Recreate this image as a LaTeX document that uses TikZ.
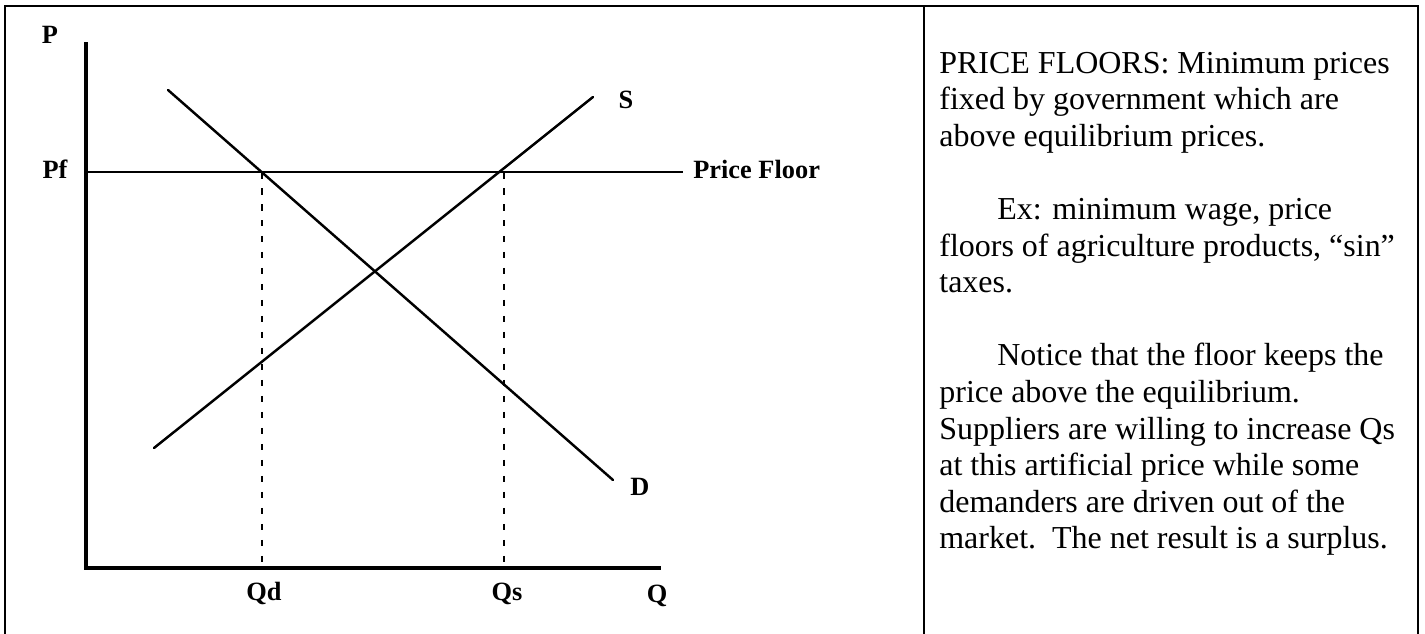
\documentclass[tikz,border=0pt]{standalone}
\usepackage{fontspec}
\setmainfont{Liberation Serif}
\begin{document}
\begin{tikzpicture}[x=0.02cm, y=-0.02cm,
	lbl/.style={font=\fontsize{15}{17}\selectfont\bfseries, inner sep=0pt, anchor=base},
	note/.style={font=\fontsize{18.2}{22}\selectfont, inner sep=0pt, anchor=base west},
	axis/.style={line width=1.8pt},
	curve/.style={line width=1.4pt, line cap=round},
	guide/.style={line width=0.9pt, dash pattern=on 0.13cm off 0.19cm}]
	\useasboundingbox (0,0) rectangle (1425,633);
	% frame, open at the bottom
	\draw[line width=1.5pt] (5,640) -- (5,6) -- (1418,6) -- (1418,640);
	\draw[line width=1.5pt] (924,6) -- (924,640);

	% axes
	\coordinate (ptop) at (86,42);
	\coordinate (orig) at (86,568);
	\coordinate (qend) at (661,568);
	\draw[axis] (ptop) -- (orig) -- (qend);

	% price floor line
	\coordinate (pf) at (86,172);
	\coordinate (pfend) at (683,172);
	\draw[line width=0.9pt] (pf) -- (pfend);

	% demand and supply
	\coordinate (d1) at (168,90);
	\coordinate (d2) at (613,480);
	\coordinate (s1) at (154,448);
	\coordinate (s2) at (593,97);
	\draw[curve] (d1) -- (d2);
	\draw[curve] (s1) -- (s2);

	% quantities at the floor
	\foreach \name/\x in {qd/262, qs/504} {
		\coordinate (\name top) at (\x,172);
		\coordinate (\name bot) at (\x,568);
		\draw[guide] (\name top) -- (\name bot);
	}

	% axis and curve labels
	\node[lbl] (plbl) at (50,43) {P};
	\node[lbl] (pflbl) at (55,178) {Pf};
	\node[lbl, anchor=base west] (floorlbl) at (693,178) {Price Floor};
	\node[lbl] (slbl) at (626,108) {S};
	\node[lbl] (dlbl) at (640,495) {D};
	\node[lbl] (qdlbl) at (264,600) {Qd};
	\node[lbl] (qslbl) at (507,600) {Qs};
	\node[lbl] (qlbl) at (657,602) {Q};

	% explanation on the right
	\foreach \i/\x/\y/\txt in {
		1/939/73/{PRICE FLOORS: Minimum prices},
		2/939/109.6/{fixed by government which are},
		3/939/146.2/{above equilibrium prices.},
		4/997/219.4/{Ex: minimum wage, price},
		5/939/256/{floors of agriculture products, “sin”},
		6/939/292.6/{taxes.},
		7/997/365.8/{Notice that the floor keeps the},
		8/939/402.4/{price above the equilibrium.},
		9/939/439/{Suppliers are willing to increase Qs},
		10/939/475.6/{at this artificial price while some},
		11/939/512.2/{demanders are driven out of the},
		12/939/548.8/{market.\ \ The net result is a surplus.}} {
		\node[note] (line\i) at (\x,\y) {\txt};
	}
\end{tikzpicture}
\end{document}
